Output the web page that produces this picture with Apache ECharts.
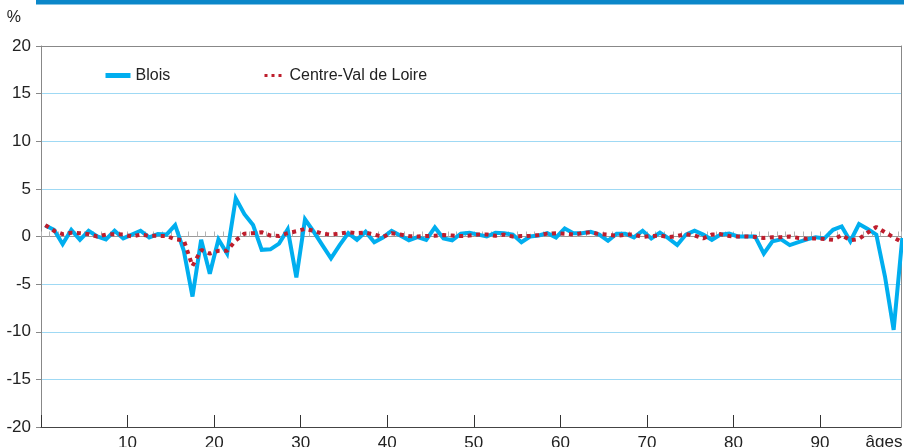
<!DOCTYPE html>
<html>
<head>
<meta charset="utf-8">
<title>Blois - Centre-Val de Loire</title>
<script src="https://cdn.jsdelivr.net/npm/echarts@6/dist/echarts.min.js"></script>
<style>
    html, body { margin: 0; padding: 0; background: #fff; }
    #chart { width: 904px; height: 447px; }
</style>
</head>
<body>
<div id="chart"></div>
<script>
    // âges révolus 0 à 99
    const ages = [
        0, 1, 2, 3, 4, 5, 6, 7, 8, 9,
        10, 11, 12, 13, 14, 15, 16, 17, 18, 19,
        20, 21, 22, 23, 24, 25, 26, 27, 28, 29,
        30, 31, 32, 33, 34, 35, 36, 37, 38, 39,
        40, 41, 42, 43, 44, 45, 46, 47, 48, 49,
        50, 51, 52, 53, 54, 55, 56, 57, 58, 59,
        60, 61, 62, 63, 64, 65, 66, 67, 68, 69,
        70, 71, 72, 73, 74, 75, 76, 77, 78, 79,
        80, 81, 82, 83, 84, 85, 86, 87, 88, 89,
        90, 91, 92, 93, 94, 95, 96, 97, 98, 99
    ];

    // Blois, en %
    const blois = [
        1.15, 0.7, -0.8, 0.7, -0.35, 0.6, 0, -0.3, 0.6, -0.2,
        0.2, 0.6, -0.1, 0.25, 0.2, 1.2, -1.5, -6.3, -0.35, -3.9,
        -0.3, -1.8, 4.0, 2.35, 1.2, -1.4, -1.35, -0.75, 0.75, -4.3,
        1.8, 0.5, -0.9, -2.3, -0.9, 0.35, -0.35, 0.5, -0.6, -0.1,
        0.6, 0.1, -0.4, -0.07, -0.35, 0.95, -0.2, -0.4, 0.3, 0.4,
        0.2, 0, 0.4, 0.35, 0.2, -0.6, 0, 0.1, 0.35, -0.1,
        0.85, 0.35, 0.35, 0.5, 0.2, -0.45, 0.3, 0.3, -0.1, 0.6,
        -0.2, 0.4, -0.2, -0.9, 0.2, 0.6, 0.2, -0.35, 0.2, 0.3,
        0, 0, 0, -1.8, -0.5, -0.3, -0.9, -0.6, -0.3, -0.07,
        -0.2, 0.7, 1.05, -0.5, 1.3, 0.8, 0.2, -4.2, -9.8, -0.15
    ];

    // Centre-Val de Loire, en %
    const centre = [
        1.2, 0.6, 0.25, 0.4, 0.35, 0.25, 0, 0.2, 0.25, 0.2,
        0, 0.2, 0.07, 0.07, 0.05, -0.3, -0.4, -3.1, -1.4, -1.8,
        -1.5, -1.5, -0.4, 0.3, 0.35, 0.45, 0.1, 0.05, 0.35, 0.55,
        0.8, 0.6, 0.3, 0.2, 0.3, 0.45, 0.35, 0.4, 0.2, -0.05,
        0.35, 0.2, 0.05, 0, 0.05, 0.07, 0.15, 0.1, 0.05, 0.1,
        0.2, 0.2, 0.07, 0.2, 0, 0.05, 0.07, 0.15, 0.3, 0.35,
        0.3, 0.2, 0.35, 0.45, 0.25, 0.2, 0.05, 0.2, 0.2, -0.05,
        0.05, 0.1, -0.07, 0.05, 0.25, 0.1, -0.2, 0.2, 0.25, 0.05,
        0, 0, -0.05, -0.15, -0.07, -0.07, 0, -0.15, -0.25, -0.2,
        -0.25, -0.35, 0.15, -0.4, -0.25, 0.4, 1.0, 0.45, -0.1, -0.6
    ];

    const xLabels = [10, 20, 30, 40, 50, 60, 70, 80, 90];

    const font = '"Liberation Sans", Arial, sans-serif';
    const xMin = 0, xMax = 99.35;

    // chaque âge est placé au milieu de son année
    const toPoints = (vals) => ages.map((a, i) => [a + 0.5, vals[i]]);

    const chart = echarts.init(document.getElementById('chart'));

    const legendText = {
        fontSize: 16, color: '#222', fontFamily: font,
        padding: [0, 0, 6, 0]
    };

    const option = {
        animation: false,
        textStyle: { fontFamily: font },
        graphic: [
            {
                type: 'rect',
                left: 36, top: 0,
                shape: { width: 868, height: 4.5 },
                style: { fill: '#0b87c9' }
            }
        ],
        legend: [
            {
                data: ['Blois'],
                left: 103, top: 67.5, padding: 0,
                itemWidth: 25, itemHeight: 14,
                itemStyle: { opacity: 0 },
                lineStyle: { width: 5 },
                textStyle: legendText
            },
            {
                data: ['Centre-Val de Loire'],
                left: 263, top: 67.5, padding: 0,
                itemWidth: 20, itemHeight: 14,
                itemStyle: { opacity: 0 },
                lineStyle: { width: 3, type: [3, 4] },
                textStyle: legendText
            }
        ],
        grid: {
            left: 41, right: 3, top: 46, bottom: 20,
            containLabel: false,
            outerBoundsMode: 'none'
        },
        xAxis: [
            {
                type: 'value',
                min: xMin, max: xMax, interval: 10,
                position: 'bottom',
                z: 1,
                axisLine: { onZero: false, lineStyle: { color: '#444' } },
                axisTick: { inside: true, length: 12, lineStyle: { color: '#333' } },
                axisLabel: {
                    margin: 8, fontSize: 17, color: '#222', fontFamily: font,
                    showMaxLabel: false,
                    formatter: (v) => xLabels.indexOf(v) >= 0 ? String(v) : ''
                },
                splitLine: { show: false },
                name: 'âges',
                nameLocation: 'end',
                nameGap: -17,
                nameTextStyle: {
                    fontSize: 17, color: '#222', fontFamily: font,
                    align: 'center', verticalAlign: 'top', padding: [7, 0, 0, 0]
                }
            },
            {
                // axe du zéro avec graduations par âge
                type: 'value',
                min: xMin, max: xMax, interval: 1,
                z: 1,
                axisLine: { onZero: true, lineStyle: { color: '#9a9a9a' } },
                axisTick: { length: 5, lineStyle: { color: '#b4b4b4' } },
                axisLabel: { show: false },
                splitLine: { show: false }
            },
            {
                type: 'value',
                min: xMin, max: xMax,
                position: 'top',
                z: 1,
                axisLine: { onZero: false, lineStyle: { color: '#888' } },
                axisTick: { show: false },
                axisLabel: { show: false },
                splitLine: { show: false }
            }
        ],
        yAxis: [
            {
                type: 'value',
                min: -20, max: 20, interval: 5,
                z: 0,
                axisLine: { show: true, onZero: false, lineStyle: { color: '#888' } },
                axisTick: { show: true, length: 5, lineStyle: { color: '#888' } },
                axisLabel: { fontSize: 17, margin: 10, color: '#222', fontFamily: font },
                splitLine: { show: true, lineStyle: { color: '#9fd9f4', width: 1 } },
                name: '%',
                nameLocation: 'end',
                nameGap: 28,
                nameTextStyle: {
                    fontSize: 16, color: '#222', fontFamily: font,
                    align: 'right', verticalAlign: 'middle', padding: [0, 20, 0, 0]
                }
            },
            {
                type: 'value',
                min: -20, max: 20,
                position: 'right',
                z: 1,
                axisLine: { show: true, onZero: false, lineStyle: { color: '#888' } },
                axisTick: { show: false },
                axisLabel: { show: false },
                splitLine: { show: false }
            }
        ],
        series: [
            {
                name: 'Blois',
                type: 'line',
                xAxisIndex: 0, yAxisIndex: 0,
                data: toPoints(blois),
                symbol: 'none',
                clip: true,
                z: 3,
                itemStyle: { color: '#00aeef' },
                lineStyle: { color: '#00aeef', width: 4, join: 'miter', miterLimit: 4 }
            },
            {
                name: 'Centre-Val de Loire',
                type: 'line',
                xAxisIndex: 0, yAxisIndex: 0,
                data: toPoints(centre),
                symbol: 'none',
                clip: true,
                z: 4,
                itemStyle: { color: '#be1e2d' },
                lineStyle: { color: '#be1e2d', width: 4, type: [4, 4.5], cap: 'butt' }
            }
        ]
    };

    chart.setOption(option);
</script>
</body>
</html>
